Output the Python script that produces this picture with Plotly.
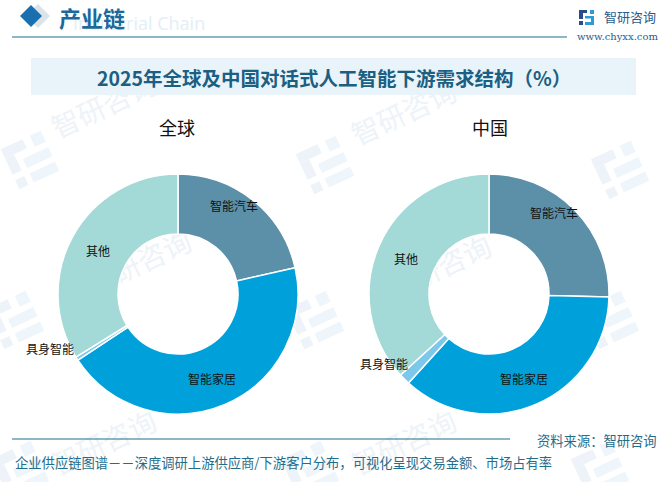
import math

import plotly.graph_objects as go

W = 665
H = 482

# 全球 / 中国 下游需求结构 (%)
categories = ["智能汽车", "智能家居", "具身智能", "其他"]
global_values = [21.5, 44.2, 0.5, 33.8]
china_values = [25.4, 36.3, 1.5, 36.8]
slice_colors = ["#5C8FA8", "#00A1DB", "#7CC8EA", "#A3D9D6"]

title_text = "2025年全球及中国对话式人工智能下游需求结构（%）"
footer_text = "企业供应链图谱－－深度调研上游供应商/下游客户分布，可视化呈现交易金额、市场占有率"
source_text = "资料来源：智研咨询"
watermark_words = [(105, 108), (405, 115), (140, 265), (440, 270), (105, 445), (405, 445)]
watermark_logos = [(30, 160), (325, 165), (620, 170), (15, 320), (315, 320), (610, 320), (20, 470), (310, 470), (600, 470)]

CJK = "Noto Sans CJK SC"
DARK = "#1B5F82"
PALE = "#EDF3F8"


def px_x(v):
    return v / W


def px_y(v):
    return 1 - v / H


def rect(x0, y0, x1, y1, color):
    return dict(type="rect", xref="paper", yref="paper", x0=px_x(x0), x1=px_x(x1), y0=px_y(y0), y1=px_y(y1),
                fillcolor=color, line_width=0, layer="below")


def diamond(cx, cy, r, color):
    path = f"M {px_x(cx - r)} {px_y(cy)} L {px_x(cx)} {px_y(cy - r)} L {px_x(cx + r)} {px_y(cy)} L {px_x(cx)} {px_y(cy + r)} Z"
    return dict(type="path", xref="paper", yref="paper", path=path, fillcolor=color, line_width=0, layer="below")


def tilted_bar(cx, cy, dx0, dy0, dx1, dy1, color, angle=-25):
    # pale logo piece, rotated around the logo centre
    a = math.radians(angle)
    pts = []
    for dx, dy in [(dx0, dy0), (dx1, dy0), (dx1, dy1), (dx0, dy1)]:
        pts.append((cx + dx * math.cos(a) - dy * math.sin(a), cy + dx * math.sin(a) + dy * math.cos(a)))
    path = "M " + " L ".join(f"{px_x(p[0])} {px_y(p[1])}" for p in pts) + " Z"
    return dict(type="path", xref="paper", yref="paper", path=path, fillcolor=color, line_width=0, layer="below")


def word(cx, cy):
    # text on a shape, so that it stays under the pies
    return dict(type="rect", xref="paper", yref="paper", x0=px_x(cx - 60), x1=px_x(cx + 60), y0=px_y(cy + 20),
                y1=px_y(cy - 20), line_width=0, fillcolor="rgba(0,0,0,0)", layer="below",
                label=dict(text="智研咨询", textangle=-25, textposition="middle center",
                           font=dict(family=CJK, size=28, color=PALE)))


def label(x, y, text, size=12, color="#111111", family=CJK, **kw):
    return dict(x=px_x(x), y=px_y(y), xref="paper", yref="paper", text=text, showarrow=False,
                xanchor="center", yanchor="middle", font=dict(family=family, size=size, color=color), **kw)


fig = go.Figure()
fig.add_trace(go.Pie(labels=categories, values=global_values, hole=0.5, sort=False, direction="clockwise",
                     rotation=0, textinfo="none", hoverinfo="label+value",
                     marker=dict(colors=slice_colors, line=dict(color="white", width=1.5)),
                     domain=dict(x=[px_x(58), px_x(298)], y=[px_y(414), px_y(174)]), showlegend=False))
fig.add_trace(go.Pie(labels=categories, values=china_values, hole=0.5, sort=False, direction="clockwise",
                     rotation=0, textinfo="none", hoverinfo="label+value",
                     marker=dict(colors=slice_colors, line=dict(color="white", width=1.5)),
                     domain=dict(x=[px_x(369), px_x(609)], y=[px_y(414), px_y(174)]), showlegend=False))

shapes = []
for wx, wy in watermark_words:
    shapes.append(word(wx, wy))
for lx, ly in watermark_logos:
    shapes += [
        tilted_bar(lx, ly, -22, -22, 2, -12, PALE),
        tilted_bar(lx, ly, -22, -12, -12, 6, PALE),
        tilted_bar(lx, ly, -22, 12, -12, 22, PALE),
        tilted_bar(lx, ly, -6, -4, 22, 6, "#EEF6FB"),
        tilted_bar(lx, ly, -6, 12, 22, 22, "#EEF6FB"),
        tilted_bar(lx, ly, 10, -22, 22, -10, "#EEF6FB"),
    ]
shapes += [
    rect(31, 58, 636, 95, "#E8F3FA"),
    rect(12, 36.5, 567, 37.5, "#1F6E8C"),
    rect(12, 438.5, 510, 439.5, "#1F6E8C"),
    diamond(38, 16, 12, "#DCE3EA"),
    diamond(31, 16, 11, "#1A70AE"),
    # logo
    rect(579, 10, 587, 13, "#2B4C8C"),
    rect(579, 13, 583, 19, "#2B4C8C"),
    rect(579, 21, 583, 25, "#2B4C8C"),
    rect(590, 10, 594, 14, "#2E9BD6"),
    rect(585, 16, 594, 18.5, "#2E9BD6"),
    rect(585, 22, 594, 25, "#2E9BD6"),
    rect(591, 18, 594, 22, "#2E9BD6"),
]

annotations = [
    label(139, 23, "Industrial Chain", size=18, color="#E3EEF6", family="Open Sans"),
    label(92, 17, "<b>产业链</b>", size=22, color="#1A6A9E"),
    label(334, 77, f"<b>{title_text}</b>", size=19.5, color=DARK),
    label(177, 127, "全球", size=18),
    label(490, 127, "中国", size=18),
    label(234, 205, categories[0]),
    label(212, 378, categories[1]),
    label(50, 348, categories[2]),
    label(98, 250, categories[3]),
    label(554, 212, categories[0]),
    label(524, 378, categories[1]),
    label(384, 363, categories[2]),
    label(406, 258, categories[3]),
    label(630, 17, "智研咨询", size=13, color="#2B5C8C"),
    label(617, 37, "www.chyxx.com", size=10, color="#2B5C8C", family="DejaVu Serif"),
    label(597, 440, source_text, size=13.3, color="#1F6E8C"),
    label(283, 462, footer_text, size=13.3, color="#1F6E8C"),
]

fig.update_layout(width=W, height=H, margin=dict(l=0, r=0, t=0, b=0), paper_bgcolor="white", plot_bgcolor="white",
                  shapes=shapes, annotations=annotations)

# page has a default body margin that pushes the plot off the corner
fig.write_html("out.html", config={"displayModeBar": False}, post_script="document.body.style.margin='0';")
